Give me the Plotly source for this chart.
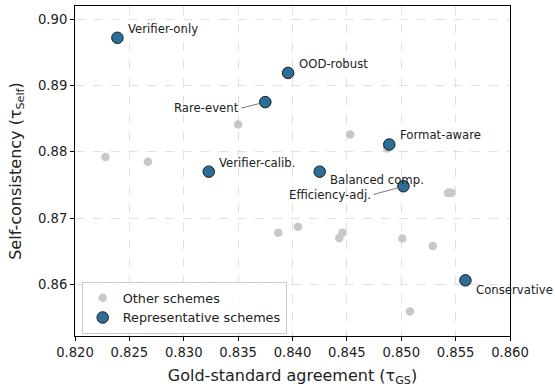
import plotly.graph_objects as go

# ---- data ----
other_x = [0.8350, 0.8228, 0.8267, 0.8453, 0.8487, 0.8543, 0.8546, 0.8405,
           0.8387, 0.8446, 0.8443, 0.8501, 0.8529, 0.8508]
other_y = [0.8841, 0.8792, 0.8785, 0.8826, 0.8805, 0.8738, 0.8738, 0.8687,
           0.8678, 0.8678, 0.8670, 0.8669, 0.8658, 0.8559]

rep_labels = ["Verifier-only", "OOD-robust", "Rare-event", "Verifier-calib.",
              "Format-aware", "Balanced comp.", "Efficiency-adj.", "Conservative"]
rep_x = [0.8239, 0.8396, 0.8375, 0.8323, 0.8489, 0.8425, 0.8502, 0.8559]
rep_y = [0.8972, 0.8919, 0.8875, 0.8770, 0.8811, 0.8770, 0.8748, 0.8606]

x_ticks = [0.820, 0.825, 0.830, 0.835, 0.840, 0.845, 0.850, 0.855, 0.860]
y_ticks = [0.86, 0.87, 0.88, 0.89, 0.90]

FONT = "DejaVu Sans"
BLUE = "#2b6f98"
GRAY = "#c8c8c8"
TXT = "#222222"

fig = go.Figure()
fig.add_trace(go.Scatter(
    x=other_x, y=other_y, mode="markers", name="Other schemes",
    marker=dict(size=8.5, color=GRAY, line=dict(width=0)),
))
fig.add_trace(go.Scatter(
    x=rep_x, y=rep_y, mode="markers", name="Representative schemes",
    marker=dict(size=11.5, color=BLUE, line=dict(width=1, color="#1a1a1a")),
))

# label placement (pixel offsets): (xshift, yshift) for plain labels
plain = {
    "Verifier-only": (9, 8.5),
    "OOD-robust": (8.5, 8.7),
    "Verifier-calib.": (8.5, 8.4),
    "Format-aware": (9, 9),
    "Balanced comp.": (8.5, -8.7),
    "Conservative": (8.5, -9.3),
}
# labels with leader line: (ax, ay)
leader = {
    "Rare-event": (-24, 6),
    "Efficiency-adj.": (-30, 8.3),
}

annotations = []
for lab, x, y in zip(rep_labels, rep_x, rep_y):
    if lab in plain:
        dx, dy = plain[lab]
        annotations.append(dict(
            x=x, y=y, xref="x", yref="y", text=lab, showarrow=False,
            xanchor="left", yanchor="middle", xshift=dx, yshift=dy,
            font=dict(family=FONT, size=11.7, color=TXT),
        ))
    else:
        ax, ay = leader[lab]
        annotations.append(dict(
            x=x, y=y, xref="x", yref="y", text=lab, showarrow=True,
            arrowhead=0, arrowwidth=0.8, arrowcolor="#555555", standoff=6,
            ax=ax, ay=ay, xanchor="right", yanchor="middle",
            font=dict(family=FONT, size=11.7, color=TXT),
        ))

axis_common = dict(
    showline=True, linecolor="black", linewidth=1, mirror=True,
    ticks="outside", ticklen=4, tickcolor="black", tickwidth=1,
    showgrid=True, gridcolor="#e0e0e0", griddash="dash", gridwidth=1,
    zeroline=False, automargin=False,
    tickfont=dict(family=FONT, size=13.2, color=TXT),
)

fig.update_layout(
    width=555, height=387,
    margin=dict(l=75, r=45, t=6, b=51),
    paper_bgcolor="white", plot_bgcolor="white",
    font=dict(family=FONT, color=TXT),
    xaxis=dict(
        range=[0.820, 0.860], tickvals=x_ticks, tickformat=".3f",
        title=dict(text="Gold-standard agreement (τ<sub>GS</sub>)",
                   font=dict(family=FONT, size=16, color=TXT), standoff=10),
        **axis_common,
    ),
    yaxis=dict(
        range=[0.8522, 0.9020], tickvals=y_ticks, tickformat=".2f",
        title=dict(text="Self-consistency (τ<sub>Self</sub>)",
                   font=dict(family=FONT, size=16, color=TXT), standoff=12),
        **axis_common,
    ),
    legend=dict(
        x=0.0154, y=0.006, xanchor="left", yanchor="bottom",
        bgcolor="rgba(255,255,255,0.8)", bordercolor="#cccccc", borderwidth=1,
        font=dict(family=FONT, size=12.8, color=TXT),
        itemsizing="trace",
    ),
    showlegend=True,
    annotations=annotations,
)

fig.write_html("out.html")
